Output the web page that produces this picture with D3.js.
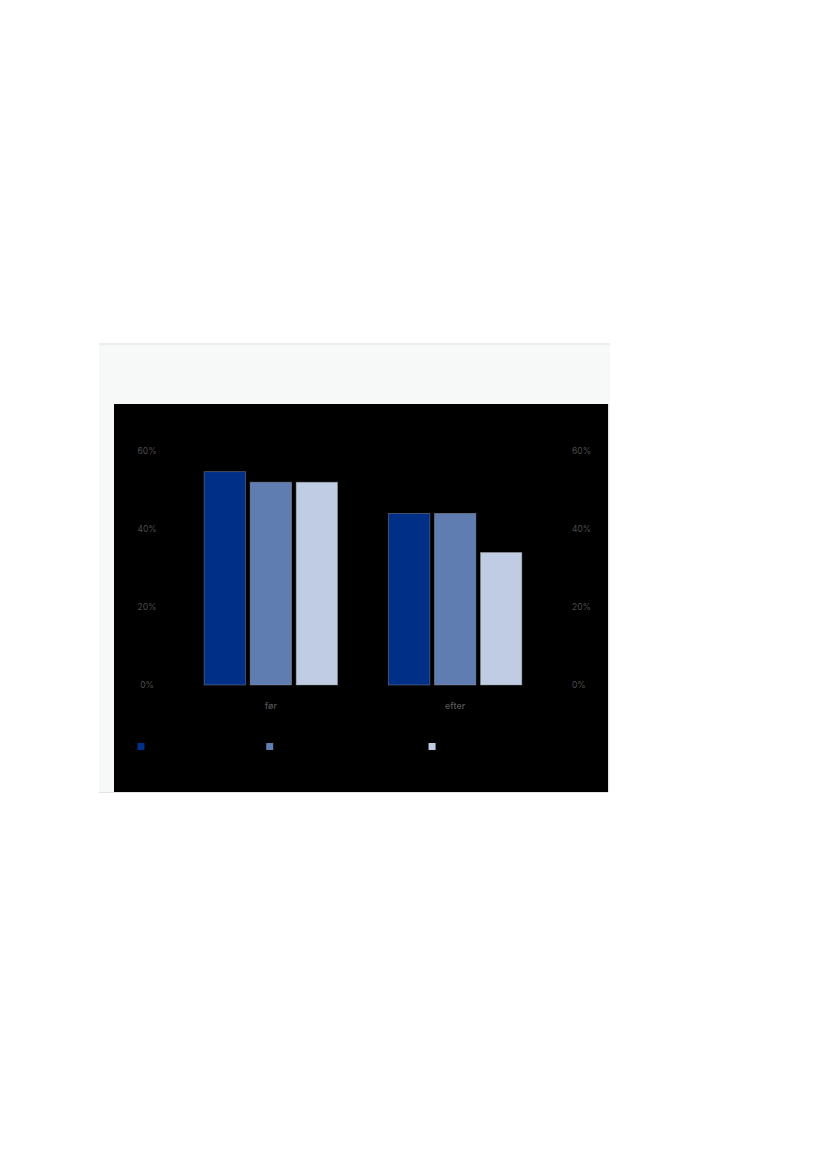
<!DOCTYPE html>
<html>
<head>
<meta charset="utf-8">
<script src="https://cdn.jsdelivr.net/npm/d3@7"></script>
<style>
  html, body { margin: 0; padding: 0; background: #ffffff; }
  svg { display: block; }
  text { font-family: Inter, "Noto Sans", sans-serif; }
</style>
</head>
<body>
<svg id="chart" width="827" height="1169"></svg>
<script>
// ---- data ----
const categories = ["før", "efter"];
const series = ["Små virksomheder", "Mellemstore virksomheder", "Store virksomheder"];
const valuesFor = [54.7, 52, 52];     // før
const valuesEfter = [44, 44, 34];     // efter
const yTicks = [0, 20, 40, 60];
const colors = ["#002f87", "#607db2", "#c0cce3"];

const data = categories.map((c, i) => ({
  cat: c,
  vals: (i === 0 ? valuesFor : valuesEfter).map((v, j) => ({ key: series[j], value: v }))
}));

const svg = d3.select("#chart");

// ---- panel / background ----
const panel = { x: 99, y: 343, w: 511, h: 449 };
const plotBg = { x: 114, y: 404, w: 494, h: 388 };

svg.append("rect").attr("x", panel.x).attr("y", panel.y)
  .attr("width", panel.w).attr("height", panel.h).attr("fill", "#f7f8f8");
svg.append("rect").attr("x", panel.x).attr("y", panel.y)
  .attr("width", panel.w).attr("height", 2).attr("fill", "#ededee");
svg.append("rect").attr("x", panel.x).attr("y", panel.y + panel.h)
  .attr("width", panel.w - 2).attr("height", 1).attr("fill", "#e2e4e4");
svg.append("rect").attr("x", plotBg.x).attr("y", plotBg.y)
  .attr("width", plotBg.w).attr("height", plotBg.h).attr("fill", "#000000");
svg.append("rect").attr("x", plotBg.x + plotBg.w).attr("y", plotBg.y)
  .attr("width", 1).attr("height", plotBg.h).attr("fill", "#dde1e1");

// ---- scales ----
const y = d3.scaleLinear().domain([0, 60]).range([685, 451]);
const x0 = d3.scaleBand().domain(categories).range([112, 614])
  .paddingInner(0.276).paddingOuter(0.5);
const x1 = d3.scaleBand().domain(series).range([0, x0.bandwidth()]).paddingInner(0.1);
const color = d3.scaleOrdinal().domain(series).range(colors);

// ---- bars ----
const g = svg.append("g");
g.selectAll("g.grp").data(data).join("g")
  .attr("class", "grp")
  .attr("transform", d => `translate(${x0(d.cat)},0)`)
  .selectAll("rect").data(d => d.vals).join("rect")
  .attr("x", d => x1(d.key))
  .attr("width", x1.bandwidth())
  .attr("y", d => y(d.value))
  .attr("height", d => y(0) - y(d.value))
  .attr("fill", d => color(d.key))
  .attr("stroke", "rgba(150,150,150,0.55)")
  .attr("stroke-width", 0.8);

// ---- y axes (left & right) ----
const axisL = d3.axisLeft(y).tickValues(yTicks).tickFormat(d => d + "%").tickSize(0).tickPadding(0);
const gL = svg.append("g").attr("transform", "translate(147,0)").call(axisL);
gL.select(".domain").remove();
gL.selectAll("text").attr("text-anchor", "middle").attr("dy", "0.35em")
  .attr("fill", "#4d4d4d").style("font-size", "8.5px").style("font-family", "Inter, sans-serif");

const axisR = d3.axisRight(y).tickValues(yTicks).tickFormat(d => d + "%").tickSize(0).tickPadding(0);
const gR = svg.append("g").attr("transform", "translate(572,0)").call(axisR);
gR.select(".domain").remove();
gR.selectAll("text").attr("text-anchor", "start").attr("dy", "0.35em")
  .attr("fill", "#4d4d4d").style("font-size", "8.5px").style("font-family", "Inter, sans-serif");

// ---- x axis ----
const axisB = d3.axisBottom(x0).tickSize(0).tickPadding(0);
const gB = svg.append("g").attr("transform", "translate(0,706)").call(axisB);
gB.select(".domain").remove();
gB.selectAll("text").attr("dy", "0.35em").attr("y", 0)
  .attr("fill", "#555555").style("font-size", "9px").style("font-weight", "500")
  .style("font-family", "Inter, sans-serif");

// ---- legend ----
const legend = svg.append("g").attr("transform", "translate(137.5,743)");
const sw = 7, textGap = 5, itemGap = 37;
let cx = 0;
series.forEach((s, i) => {
  const it = legend.append("g").attr("transform", `translate(${cx},0)`);
  it.append("rect").attr("width", sw).attr("height", sw).attr("fill", color(s));
  const t = it.append("text").attr("x", sw + textGap).attr("y", sw / 2).attr("dy", "0.35em")
    .attr("fill", "#000000").style("font-size", "9px").text(s);
  cx += sw + textGap + t.node().getComputedTextLength() + itemGap;
});
</script>
</body>
</html>
